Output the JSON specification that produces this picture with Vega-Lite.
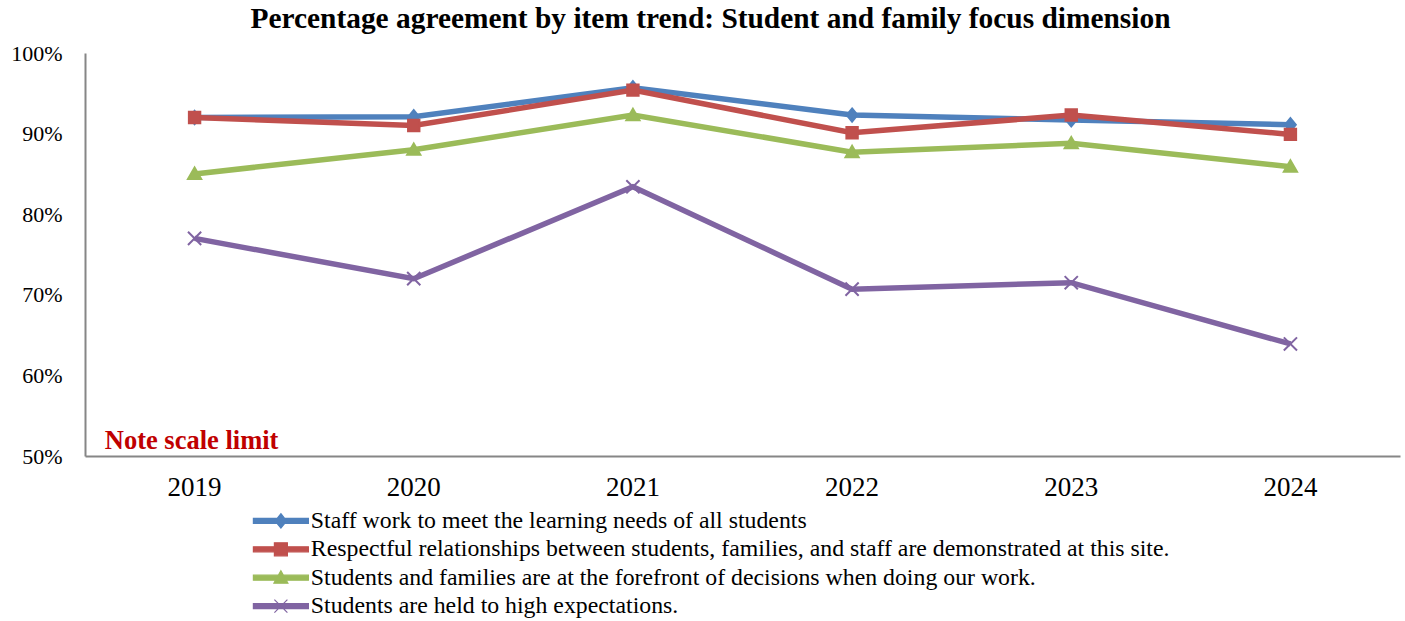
{
  "$schema": "https://vega.github.io/schema/vega-lite/v6.json",
  "autosize": {"type": "none"},
  "width": 1315,
  "height": 403,
  "padding": {"left": 85, "top": 53, "right": 5, "bottom": 165},
  "background": "white",
  "config": {
    "font": "Liberation Serif",
    "view": {"stroke": null},
    "axis": {"labelFont": "Liberation Serif", "labelColor": "black", "grid": false, "ticks": false, "domainColor": "#868686", "domainWidth": 2, "title": null}
  },
  "title": {
    "text": "Percentage agreement by item trend: Student and family focus dimension",
    "font": "Liberation Serif",
    "fontSize": 29.4,
    "fontWeight": "bold",
    "color": "black",
    "anchor": "middle",
    "dx": -32,
    "offset": 8
  },
  "data": {
    "values": [
      {"year": "2019", "item": "Staff work to meet the learning needs of all students", "value": 92.0},
      {"year": "2020", "item": "Staff work to meet the learning needs of all students", "value": 92.1},
      {"year": "2021", "item": "Staff work to meet the learning needs of all students", "value": 95.7},
      {"year": "2022", "item": "Staff work to meet the learning needs of all students", "value": 92.3},
      {"year": "2023", "item": "Staff work to meet the learning needs of all students", "value": 91.7},
      {"year": "2024", "item": "Staff work to meet the learning needs of all students", "value": 91.1},
      {"year": "2019", "item": "Respectful relationships between students, families, and staff are demonstrated at this site.", "value": 92.0},
      {"year": "2020", "item": "Respectful relationships between students, families, and staff are demonstrated at this site.", "value": 91.0},
      {"year": "2021", "item": "Respectful relationships between students, families, and staff are demonstrated at this site.", "value": 95.4},
      {"year": "2022", "item": "Respectful relationships between students, families, and staff are demonstrated at this site.", "value": 90.1},
      {"year": "2023", "item": "Respectful relationships between students, families, and staff are demonstrated at this site.", "value": 92.3},
      {"year": "2024", "item": "Respectful relationships between students, families, and staff are demonstrated at this site.", "value": 89.9},
      {"year": "2019", "item": "Students and families are at the forefront of decisions when doing our work.", "value": 85.0},
      {"year": "2020", "item": "Students and families are at the forefront of decisions when doing our work.", "value": 88.0},
      {"year": "2021", "item": "Students and families are at the forefront of decisions when doing our work.", "value": 92.3},
      {"year": "2022", "item": "Students and families are at the forefront of decisions when doing our work.", "value": 87.7},
      {"year": "2023", "item": "Students and families are at the forefront of decisions when doing our work.", "value": 88.8},
      {"year": "2024", "item": "Students and families are at the forefront of decisions when doing our work.", "value": 85.9},
      {"year": "2019", "item": "Students are held to high expectations.", "value": 77.0},
      {"year": "2020", "item": "Students are held to high expectations.", "value": 72.0},
      {"year": "2021", "item": "Students are held to high expectations.", "value": 83.4},
      {"year": "2022", "item": "Students are held to high expectations.", "value": 70.7},
      {"year": "2023", "item": "Students are held to high expectations.", "value": 71.5},
      {"year": "2024", "item": "Students are held to high expectations.", "value": 63.9}
    ]
  },
  "encoding": {
    "x": {
      "field": "year", "type": "ordinal",
      "scale": {"type": "band", "paddingInner": 0, "paddingOuter": 0},
      "axis": {"labelAngle": 0, "labelFontSize": 27, "labelPadding": 18, "labelBaseline": "top"}
    },
    "y": {
      "field": "value", "type": "quantitative",
      "scale": {"domain": [50, 100], "nice": false, "zero": false},
      "axis": {"values": [50, 60, 70, 80, 90, 100], "labelExpr": "datum.value + '%'", "labelFontSize": 22, "labelPadding": 23, "labelBaseline": "middle"}
    }
  },
  "layer": [
    {
      "mark": {"type": "line", "strokeWidth": 5.5},
      "encoding": {
        "color": {
          "field": "item", "type": "nominal", "sort": null,
          "scale": {"range": ["#4F81BD", "#C0504D", "#9BBB59", "#8064A2"]},
          "legend": {
            "orient": "none",
            "legendX": 162,
            "legendY": 456,
            "direction": "vertical",
            "title": null,
            "padding": 0,
            "labelFont": "Liberation Serif",
            "labelFontSize": 23.8,
            "labelColor": "black",
            "labelLimit": 0,
            "labelOffset": 18,
            "symbolOffset": 22,
            "symbolSize": 100,
            "symbolStrokeWidth": 1,
            "rowPadding": 3.4,
            "encode": {
              "symbols": {
                "update": {
                  "shape": {"signal": "datum.value === 'Staff work to meet the learning needs of all students' ? 'M-5.5,-0.5H5.5V0.5H-5.5Z M0,-1.45L1.15,0L0,1.45L-1.15,0Z' : datum.value === 'Students and families are at the forefront of decisions when doing our work.' ? 'M-5.5,-0.5H5.5V0.5H-5.5Z M0,-1.4L1.4,1.1H-1.4Z' : datum.value === 'Students are held to high expectations.' ? 'M-5.5,-0.5H5.5V0.5H-5.5Z M-1.3,-1.3L1.3,1.3M-1.3,1.3L1.3,-1.3' : 'M-5.5,-0.5H5.5V0.5H-5.5Z M-1.3,-1.3H1.3V1.3H-1.3Z'"},
                  "fill": {"scale": "color", "field": "value"},
                  "stroke": {"scale": "color", "field": "value"},
                  "strokeWidth": {"value": 1.2},
                  "opacity": {"value": 1}
                }
              }
            }
          }
        }
      }
    },
    {
      "mark": {"type": "point", "filled": true, "opacity": 1, "size": 144, "strokeWidth": 2},
      "encoding": {
        "color": {"field": "item", "type": "nominal", "sort": null},
        "stroke": {"field": "item", "type": "nominal", "sort": null, "scale": {"range": ["#4F81BD", "#C0504D", "#9BBB59", "#8064A2"]}, "legend": null},
        "shape": {
          "field": "item", "type": "nominal", "sort": null,
          "scale": {"range": ["M0,-1.1L0.9,0L0,1.1L-0.9,0Z", "M-0.95,-0.95H0.95V0.95H-0.95Z", "M0,-1.05L1.1,0.85H-1.1Z", "M-1.1,-1.1L1.1,1.1M-1.1,1.1L1.1,-1.1"]},
          "legend": null
        }
      }
    },
    {
      "data": {"values": [{"year": "2019", "value": 50, "note": "Note scale limit"}]},
      "mark": {"type": "text", "color": "#C00000", "fontWeight": "bold", "fontSize": 26.5, "font": "Liberation Serif", "align": "center", "baseline": "alphabetic", "dx": -3, "dy": -7},
      "encoding": {
        "text": {"field": "note"}
      }
    }
  ]
}
